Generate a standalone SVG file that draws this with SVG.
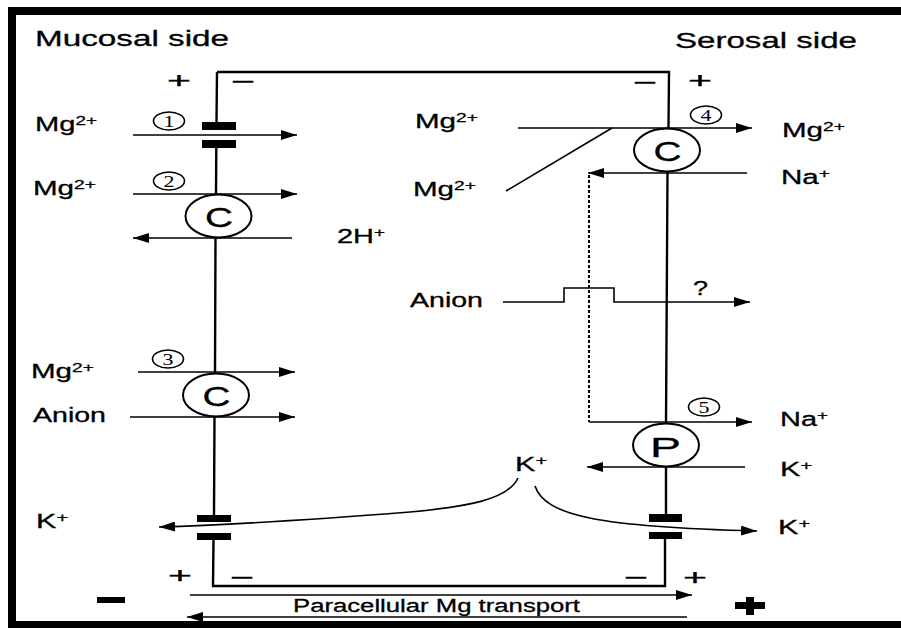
<svg xmlns="http://www.w3.org/2000/svg" width="901" height="628" viewBox="0 0 901 628">
<defs>
<marker id="ah" markerWidth="16" markerHeight="10" refX="16" refY="5" orient="auto" markerUnits="userSpaceOnUse"><path d="M0,0 L16,5 L0,10 z" fill="#000"/></marker>
<style>
.t{font-family:"Liberation Sans",Arial,sans-serif;fill:#000;font-size:20px;stroke:#000;stroke-width:0.3}
.s{font-size:13px}
.n{font-family:"Liberation Serif","Times New Roman",serif;font-size:16px;fill:#000}
.ln{stroke:#000;stroke-width:1.6;fill:none}
.mem{stroke:#000;stroke-width:2.4;fill:none}
.dash{stroke:#000;stroke-width:2;fill:none;stroke-dasharray:3 2}
.a{marker-end:url(#ah)}
.cir{fill:#fff;stroke:#000;stroke-width:2}
.num{fill:#fff;stroke:#000;stroke-width:1.6}
.blk{fill:#000}
</style>
</defs>
<rect width="901" height="628" fill="#fff"/>
<g id="frame">
<rect x="8" y="7" width="893" height="8" fill="#000"/>
<rect x="8" y="7" width="8" height="621" fill="#000"/>
<rect x="8" y="621" width="893" height="7" fill="#000"/>
</g>
<g id="titles">
<text class="t" x="35" y="46" style="font-size:22px" textLength="194" lengthAdjust="spacingAndGlyphs">Mucosal side</text>
<text class="t" x="675" y="48" style="font-size:22px" textLength="182" lengthAdjust="spacingAndGlyphs">Serosal side</text>
</g>
<g id="membranes">
<path class="mem" d="M217,72 L216.5,122 M216.3,148 L216,195 M215.5,237 L215,373 M214.5,417 L214,515 M213.5,540 L213,586 L665,586 L665,539 M666,514 L666,467 M666,423 L667.5,172 M668.5,128 L669,72 L217,72"/>
</g>
<g id="polarity">
<text class="t" x="167" y="88" style="font-size:22px" textLength="24" lengthAdjust="spacingAndGlyphs">+</text>
<text class="t" x="231" y="89" style="font-size:22px" textLength="24" lengthAdjust="spacingAndGlyphs">−</text>
<text class="t" x="633" y="90" style="font-size:22px" textLength="24" lengthAdjust="spacingAndGlyphs">−</text>
<text class="t" x="688" y="88" style="font-size:22px" textLength="24" lengthAdjust="spacingAndGlyphs">+</text>
<text class="t" x="168" y="583" style="font-size:22px" textLength="24" lengthAdjust="spacingAndGlyphs">+</text>
<text class="t" x="230" y="585" style="font-size:22px" textLength="24" lengthAdjust="spacingAndGlyphs">−</text>
<text class="t" x="624" y="585" style="font-size:22px" textLength="24" lengthAdjust="spacingAndGlyphs">−</text>
<text class="t" x="683" y="585" style="font-size:22px" textLength="24" lengthAdjust="spacingAndGlyphs">+</text>
<rect x="97" y="597" width="28" height="6" fill="#000"/>
<rect x="735" y="602" width="30" height="7" fill="#000"/>
<rect x="746" y="597" width="8" height="18" fill="#000"/>
</g>
<g id="connectors">
<path class="ln a" d="M133,135 H297"/>
<path class="ln a" d="M133,194 H297"/>
<path class="ln a" d="M292,238 H133"/>
<path class="ln a" d="M138,372 H295"/>
<path class="ln a" d="M130,417 H295"/>
<path class="ln a" d="M518,478 C508,500 465,507 410,512 C320,519 230,525 159,527"/>
<path class="ln a" d="M535,486 C545,516 600,527 757,531"/>
<path class="ln a" d="M518,128 H752"/>
<path class="ln" d="M612,128 L506,191"/>
<path class="ln a" d="M747,173 H588"/>
<path class="dash" d="M589,175 V422"/>
<path class="ln a" d="M589,422 H752"/>
<path class="ln a" d="M503,302 H564 V288 H614 V302 H750"/>
<path class="ln a" d="M745,467 H587"/>
<path class="ln a" d="M190,595 H692"/>
<path class="ln a" d="M687,617 H187"/>
</g>
<g id="channel1">
<rect class="blk" x="202" y="122" width="34" height="8"/>
<rect class="blk" x="202" y="140" width="34" height="8"/>
</g>
<g id="channelK-left">
<rect class="blk" x="197" y="515" width="34" height="7"/>
<rect class="blk" x="197" y="533" width="34" height="7"/>
</g>
<g id="channelK-right">
<rect class="blk" x="649" y="514" width="33" height="8"/>
<rect class="blk" x="649" y="532" width="33" height="7"/>
</g>
<g id="carrier2">
<ellipse class="cir" cx="218.5" cy="216" rx="33" ry="21.5"/>
<text class="t" x="205" y="227" style="font-size:28px" textLength="28" lengthAdjust="spacingAndGlyphs">C</text>
</g>
<g id="carrier3">
<ellipse class="cir" cx="216" cy="395" rx="33" ry="21.5"/>
<text class="t" x="202.5" y="406" style="font-size:28px" textLength="28" lengthAdjust="spacingAndGlyphs">C</text>
</g>
<g id="carrier4">
<ellipse class="cir" cx="667" cy="150" rx="33" ry="21.5"/>
<text class="t" x="653.5" y="161" style="font-size:28px" textLength="28" lengthAdjust="spacingAndGlyphs">C</text>
</g>
<g id="pump5">
<ellipse class="cir" cx="666" cy="445" rx="33" ry="21.5"/>
<text class="t" x="650" y="457" style="font-size:27px" textLength="31" lengthAdjust="spacingAndGlyphs">P</text>
</g>
<g id="numbers">
<ellipse class="num" cx="169" cy="121" rx="15.5" ry="9"/><text class="n" x="163.5" y="126.5" textLength="11" lengthAdjust="spacingAndGlyphs">1</text>
<ellipse class="num" cx="169" cy="181" rx="15.5" ry="9"/><text class="n" x="163.5" y="186.5" textLength="11" lengthAdjust="spacingAndGlyphs">2</text>
<ellipse class="num" cx="168" cy="359" rx="15.5" ry="9"/><text class="n" x="162.5" y="364.5" textLength="11" lengthAdjust="spacingAndGlyphs">3</text>
<ellipse class="num" cx="706" cy="115" rx="15.5" ry="9"/><text class="n" x="700.5" y="120.5" textLength="11" lengthAdjust="spacingAndGlyphs">4</text>
<ellipse class="num" cx="704" cy="407" rx="15.5" ry="9"/><text class="n" x="698.5" y="412.5" textLength="11" lengthAdjust="spacingAndGlyphs">5</text>
</g>
<g id="labels">
<text class="t" x="35" y="131" textLength="62" lengthAdjust="spacingAndGlyphs">Mg<tspan class="s" dy="-6">2+</tspan></text>
<text class="t" x="33" y="195" textLength="63" lengthAdjust="spacingAndGlyphs">Mg<tspan class="s" dy="-6">2+</tspan></text>
<text class="t" x="337" y="243" textLength="48" lengthAdjust="spacingAndGlyphs">2H<tspan class="s" dy="-6">+</tspan></text>
<text class="t" x="31" y="378" textLength="63" lengthAdjust="spacingAndGlyphs">Mg<tspan class="s" dy="-6">2+</tspan></text>
<text class="t" x="33" y="422" textLength="73" lengthAdjust="spacingAndGlyphs">Anion</text>
<text class="t" x="36" y="528" textLength="32" lengthAdjust="spacingAndGlyphs">K<tspan class="s" dy="-6">+</tspan></text>
<text class="t" x="415" y="128" textLength="63" lengthAdjust="spacingAndGlyphs">Mg<tspan class="s" dy="-6">2+</tspan></text>
<text class="t" x="413" y="196" textLength="63" lengthAdjust="spacingAndGlyphs">Mg<tspan class="s" dy="-6">2+</tspan></text>
<text class="t" x="782" y="137" textLength="63" lengthAdjust="spacingAndGlyphs">Mg<tspan class="s" dy="-6">2+</tspan></text>
<text class="t" x="781" y="184" textLength="49" lengthAdjust="spacingAndGlyphs">Na<tspan class="s" dy="-6">+</tspan></text>
<text class="t" x="410" y="307" textLength="73" lengthAdjust="spacingAndGlyphs">Anion</text>
<text class="t" x="693" y="295" textLength="15" lengthAdjust="spacingAndGlyphs">?</text>
<text class="t" x="780" y="426" textLength="48" lengthAdjust="spacingAndGlyphs">Na<tspan class="s" dy="-6">+</tspan></text>
<text class="t" x="515" y="471" textLength="32" lengthAdjust="spacingAndGlyphs">K<tspan class="s" dy="-6">+</tspan></text>
<text class="t" x="780" y="476" textLength="32" lengthAdjust="spacingAndGlyphs">K<tspan class="s" dy="-6">+</tspan></text>
<text class="t" x="778" y="534" textLength="32" lengthAdjust="spacingAndGlyphs">K<tspan class="s" dy="-6">+</tspan></text>
<text class="t" x="293" y="612" style="font-size:18px" textLength="287" lengthAdjust="spacingAndGlyphs">Paracellular Mg transport</text>
</g>
</svg>
